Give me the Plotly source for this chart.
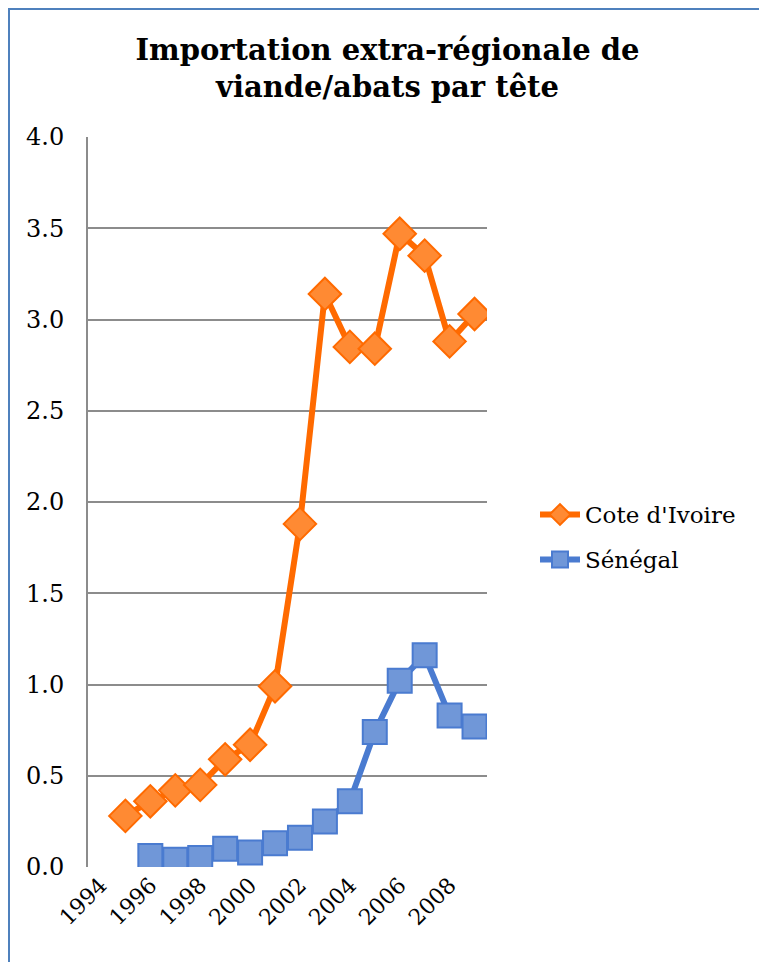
import plotly.graph_objects as go

years_ci = [1995, 1996, 1997, 1998, 1999, 2000, 2001, 2002, 2003, 2004, 2005, 2006, 2007, 2008, 2009]
cote_divoire = [0.28, 0.36, 0.42, 0.45, 0.59, 0.67, 0.99, 1.88, 3.14, 2.85, 2.84, 3.47, 3.35, 2.88, 3.03]
years_sn = [1996, 1997, 1998, 1999, 2000, 2001, 2002, 2003, 2004, 2005, 2006, 2007, 2008, 2009]
senegal = [0.06, 0.04, 0.05, 0.10, 0.08, 0.13, 0.16, 0.25, 0.36, 0.74, 1.02, 1.16, 0.83, 0.77]
tick_years = [1994, 1996, 1998, 2000, 2002, 2004, 2006, 2008]
y_ticks = [0.0, 0.5, 1.0, 1.5, 2.0, 2.5, 3.0, 3.5, 4.0]

FONT = "DejaVu Serif"

# the page body has an 8px margin, so the figure is 8px smaller than the window
W, H = 759, 954
L, R, T, B = 80, 280, 129, 95
PW, PH = W - L - R, H - T - B

fig = go.Figure()
fig.add_trace(go.Scatter(
    x=years_ci, y=cote_divoire, name="Cote d'Ivoire", mode="lines+markers",
    legendgroup="ci",
    line=dict(color="#FF6A00", width=6),
    marker=dict(symbol="diamond", size=25, color="#FF8A33",
                line=dict(color="#FF6A00", width=2)),
))
fig.add_trace(go.Scatter(
    x=years_sn, y=senegal, name="Sénégal", mode="lines+markers",
    legendgroup="sn",
    line=dict(color="#4A7BD0", width=6),
    marker=dict(symbol="square", size=24, color="#7097D8",
                line=dict(color="#4A7BD0", width=2)),
))

fig.update_layout(
    width=W, height=H,
    margin=dict(l=L, r=R, t=T, b=B),
    paper_bgcolor="white", plot_bgcolor="white",
    font=dict(family=FONT, color="black", size=22),
    title=dict(text="<b>Importation extra-régionale de<br>viande/abats par tête</b>",
               x=0.5, xanchor="center", xref="container", y=0.946, yanchor="top",
               yref="container",
               font=dict(family=FONT, size=29, color="black")),
    showlegend=True,
    legend=dict(x=(535 - 88) / PW, y=0.452, xanchor="left", yanchor="middle",
                font=dict(family=FONT, size=23, color="black"),
                bgcolor="rgba(0,0,0,0)", tracegroupgap=12, itemwidth=40),
    xaxis=dict(range=[1993.5, 2009.5], tickvals=tick_years,
               ticktext=[str(y) for y in tick_years], tickangle=-45,
               showgrid=False, zeroline=False, showline=False, ticks="",
               tickfont=dict(family=FONT, size=22)),
    yaxis=dict(range=[0, 4.0], tickvals=y_ticks,
               ticktext=[f"{v:.1f}" for v in y_ticks],
               showgrid=True, gridcolor="#8C8C8C", gridwidth=2,
               zeroline=False, showline=True, linecolor="#8C8C8C", linewidth=2,
               ticks="", ticklen=0, ticklabelstandoff=17,
               tickfont=dict(family=FONT, size=24)),
)
# chart border (Excel chart area outline)
fig.add_shape(type="rect", xref="paper", yref="paper",
              x0=(1 - L) / PW, x1=(W + 20 - L) / PW,
              y0=-(B + 20) / PH, y1=(PH + T - 1) / PH,
              line=dict(color="#4F81BD", width=2), layer="below")

fig.write_html("out.html")
